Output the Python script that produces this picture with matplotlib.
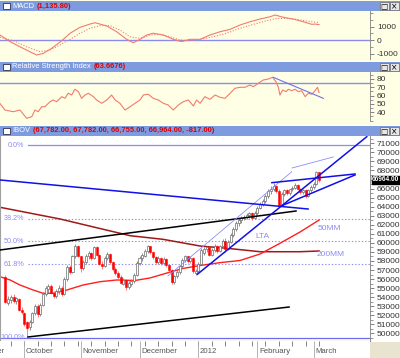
import numpy as np
import pandas as pd
import matplotlib
matplotlib.use('Agg')
import matplotlib.pyplot as plt
from matplotlib.patches import Rectangle
from matplotlib.ticker import MultipleLocator, FixedLocator
from matplotlib.transforms import blended_transform_factory

plt.rcParams['font.family'] = ['Liberation Sans', 'DejaVu Sans']
plt.rcParams['axes.unicode_minus'] = False

# trading days on the chart (bar index 0 = 2011-09-22)
dates = pd.bdate_range('2011-09-22', '2012-03-05')

opens = [56200, 53400, 53700, 54000, 53600, 53800, 52600, 52300, 51200, 50700,
         51300, 52200, 53000, 52100, 53100, 54400, 54900, 55200, 54500, 54100,
         54700, 55000, 54300, 56000, 57300, 56800, 58500, 59600, 58500, 57200,
         57900, 58500, 58900, 58300, 59500, 58700, 57700, 57400, 58300, 58800,
         57900, 57100, 56700, 56200, 55500, 55900, 55100, 55500, 55800, 56500,
         57800, 58300, 58600, 59100, 59600, 59000, 58400, 57900, 58300, 57800,
         58200, 57500, 57000, 55700, 56300, 56800, 57400, 58100, 58500, 58000,
         58300, 56700, 56900, 57700, 58900, 59300, 59500, 58700, 59200, 59700,
         59100, 59600, 60200, 59300, 60100, 60900, 61500, 62200, 62500, 62800,
         62900, 63100, 63300, 62700, 63300, 63900, 64300, 64600, 65200, 65700,
         66000, 66300, 65700, 64200, 65400, 65800, 65500, 65900, 66100, 66400,
         66000, 65600, 65800, 65200, 65800, 66200, 66500, 67782]
highs = [56500, 54100, 54200, 54300, 54000, 53900, 52900, 52400, 51400, 51500,
         52400, 53200, 53200, 53300, 54600, 55200, 55500, 55400, 54700, 54900,
         55300, 55200, 56200, 57500, 57500, 58700, 59900, 59800, 58600, 58100,
         58800, 59100, 59000, 59700, 59600, 58800, 58000, 58500, 59000, 58900,
         58000, 57300, 56900, 56400, 56100, 56000, 55800, 56000, 56700, 58000,
         58600, 58900, 59300, 59800, 59700, 59100, 58600, 58500, 58400, 58400,
         58300, 57700, 57100, 56500, 57000, 57600, 58300, 58700, 58600, 58500,
         58400, 57100, 57900, 59400, 59500, 59700, 59600, 59400, 59900, 59800,
         59800, 60400, 60500, 60300, 61100, 61700, 62400, 62700, 63000, 63100,
         63300, 63400, 63400, 63500, 64100, 64500, 64800, 65400, 65900, 66300,
         66600, 66400, 65900, 65600, 66000, 66000, 66000, 66300, 66600, 66500,
         66100, 66000, 66000, 65900, 66400, 66700, 67900, 67782]
lows = [53300, 53100, 53400, 53400, 53200, 52500, 52100, 50800, 49500, 50400,
        51100, 52000, 51800, 51900, 53000, 54100, 54500, 54300, 53900, 53900,
        54400, 54100, 54200, 55800, 56600, 56700, 58300, 58400, 56800, 57000,
        57700, 58200, 58100, 58200, 58500, 57500, 57100, 57300, 58100, 57700,
        56900, 56500, 56000, 55400, 55300, 54800, 54900, 55200, 55600, 56300,
        57500, 58000, 58400, 58900, 58800, 58200, 57700, 57700, 57600, 57600,
        57300, 56800, 55500, 55500, 56100, 56600, 57200, 57900, 57800, 57800,
        56700, 56500, 56700, 57600, 58700, 59000, 58500, 58600, 59000, 58900,
        59000, 59400, 59000, 59200, 60000, 60700, 61300, 61900, 62200, 62500,
        62600, 62800, 62500, 62600, 63100, 63700, 64100, 64400, 65000, 65400,
        65700, 65500, 64000, 64100, 65200, 65300, 65300, 65700, 65900, 65800,
        65400, 65400, 65000, 65100, 65600, 66000, 66400, 66755]
closes = [53500, 53800, 54000, 53600, 53900, 52600, 52400, 51000, 50600, 51300,
          52200, 53000, 52100, 53100, 54400, 55000, 55200, 54500, 54100, 54700,
          55000, 54300, 56000, 57300, 56800, 58500, 59600, 58600, 57200, 57900,
          58600, 58900, 58300, 59500, 58700, 57700, 57400, 58300, 58800, 57900,
          57100, 56700, 56200, 55600, 55900, 55100, 55600, 55800, 56500, 57800,
          58300, 58700, 59100, 59600, 59000, 58400, 57900, 58300, 57800, 58200,
          57500, 57000, 55700, 56300, 56800, 57400, 58100, 58500, 58000, 58300,
          56900, 56900, 57700, 59200, 59300, 59500, 58700, 59200, 59700, 59100,
          59600, 60200, 59300, 60100, 60900, 61500, 62200, 62500, 62800, 62900,
          63100, 63300, 62700, 63300, 63900, 64300, 64600, 65200, 65700, 66000,
          66300, 65700, 64200, 65400, 65800, 65500, 65900, 66100, 66400, 66000,
          65600, 65800, 65200, 65800, 66200, 66500, 67781, 66964]

# moving averages, vertices (bar index, price)
mm50_x = [-2.05, 1.7, 5.4, 10.3, 14.0, 17.7, 22.9, 28.9, 35.3, 41.6, 48.3,
          53.9, 60.3, 66.2, 72.6, 80.0, 87.5, 95.0, 102.4, 109.9, 117.0]
mm50_y = [56260, 55900, 55340, 54790, 54430, 54430, 54790, 55340, 55710, 55900,
          55840, 56120, 56670, 57170, 57500, 57810, 58050, 58770, 59950, 61200, 62520]
mm200_x = [-2.05, 20.3, 46.5, 58.8, 72.6, 82.6, 95.0, 109.9, 117.0]
mm200_y = [63930, 62640, 60790, 60390, 59650, 59400, 59020, 59020, 59100]

# drawn trend lines: ((x0, x1), (y0, y1)) in bar index / price
blue_lines = [((-2.1, 112.9), (66950, 63740)),
              ((71.6, 134.8), (56530, 71730)),   # LTA
              ((99.4, 130.4), (66650, 67610)),
              ((102.8, 130.4), (64070, 67500))]
thin_lines = [((60.6, 106.8), (56340, 67860)),
              ((106.9, 122.3), (68270, 69490))]
black_lines = [((-2.1, 108.4), (59210, 63520)),
               ((8.4, 105.8), (49600, 52910))]

fib_high, fib_low = 70810, 49490
fib_ratios = [0.0, 0.382, 0.5, 0.618, 1.0]
fib_labels = ['0.0%', '38.2%', '50.0%', '61.8%', '100.0%']

# RSI and MACD vertices
rsi_x = [-2.1, -0.2, 2.9, 5.4, 7.9, 9.8, 11.0, 12.2, 13.5, 14.7, 16.6, 17.8, 19.1,
         21.0, 22.2, 23.4, 24.7, 25.9, 27.2, 28.4, 29.7, 30.9, 32.8, 34.0, 35.9,
         37.8, 39.6, 40.9, 42.7, 44.6, 46.5, 48.3, 50.2, 51.4, 53.3, 55.1, 57.0,
         58.9, 60.7, 62.6, 64.5, 66.3, 68.2, 70.1, 71.3, 72.6, 74.4, 76.3, 78.2,
         80.0, 81.9, 83.8, 85.6, 87.5, 89.4, 91.2, 92.5, 94.3, 96.2, 98.1, 99.7,
         100.9, 101.8, 102.4, 103.4, 104.7, 105.5, 106.8, 108.0, 109.3, 110.5,
         111.8, 113.0, 114.3, 115.5, 116.4, 117.0]
rsi_y = [50.7, 42.6, 40.6, 42.6, 32.6, 34.6, 42.6, 40.6, 46.6, 46.6, 52.6, 54.7, 52.6,
         58.7, 56.7, 62.8, 60.7, 67.6, 64.7, 56.7, 60.7, 62.8, 58.7, 54.7, 50.7,
         54.7, 60.7, 54.7, 50.7, 42.6, 46.6, 50.7, 54.7, 60.7, 61.6, 56.7, 54.7,
         50.7, 48.7, 42.6, 48.7, 52.6, 54.7, 47.5, 54.7, 50.7, 58.7, 55.5, 60.7,
         58.0, 56.7, 62.8, 68.8, 70.0, 70.0, 72.8, 70.7, 74.8, 78.8, 80.0, 82.0,
         76.7, 70.0, 60.7, 66.7, 64.7, 67.6, 65.9, 67.6, 64.7, 65.9,
         58.7, 62.8, 61.6, 65.9, 70.0, 63.6676]
rsi_trend = ((99.9, 118.6), (82.0, 56.7))
rsi_level = 75

macd_x = [-2.1, 1.7, 5.4, 9.1, 11.6, 14.1, 17.2, 21.0, 24.1, 27.8, 31.5, 33.4, 37.8,
          41.5, 45.2, 47.7, 50.2, 52.7, 55.1, 58.9, 62.6, 65.7, 68.8, 72.6, 76.3,
          80.0, 83.8, 87.5, 91.2, 94.9, 98.7, 100.6, 103.7, 107.4, 111.1, 114.3,
          115.5, 117.0]
macd_y = [370, -120, -500, -870, -1110, -990, -620, -50, 500, 940, 1180, 1280, 1040,
          610, 50, -200, 50, 370, 500, 370, 50, -120, 50, 50, 370,
          610, 790, 1110, 1350, 1550, 1720, 1850, 1680, 1550, 1350, 1160,
          1180, 1135.8]
signal_x = [-2.1, 2.9, 7.9, 12.9, 16.6, 20.3, 24.1, 27.8, 31.5, 35.3, 39.0, 42.7,
            46.5, 50.2, 53.9, 57.6, 61.4, 65.1, 68.8, 72.6, 77.5, 82.5, 87.5, 92.5,
            97.5, 101.2, 104.9, 108.7, 112.4, 117.0]
signal_y = [200, -50, -500, -870, -740, -370, 50, 500, 870, 1060, 1060, 740,
            240, 120, 370, 420, 240, 0, -50, 50, 240, 500, 870, 1160,
            1430, 1600, 1600, 1530, 1400, 1280]

month_labels = ['September', 'October', 'November', 'December', '2012', 'February', 'March']

CREAM = '#ffffe6'
BAR_BLUE = '#7f9be0'
SALMON = '#f27b6e'
LAV = '#8c8cf0'
XLIM = (-2.05, 136.0)

W, H = 400, 358
fig = plt.figure(figsize=(W / 100, H / 100), dpi=100, facecolor=CREAM)


def px_axes(x0, y0, x1, y1):
    return fig.add_axes([x0 / W, 1 - y1 / H, (x1 - x0) / W, (y1 - y0) / H])


def title_bar(y0, y1, name, value):
    ax = px_axes(0, y0, 400, y1)
    ax.set_facecolor(BAR_BLUE)
    ax.set_xlim(0, 400)
    ax.set_ylim(0, 1)
    ax.set_xticks([])
    ax.set_yticks([])
    for s in ax.spines.values():
        s.set_visible(False)
    ax.add_patch(Rectangle((3, 0.22), 7, 0.56, facecolor='white', edgecolor='#303050', lw=0.6))
    t = ax.text(12, 0.5, name, color='white', fontsize=5.4, va='center', ha='left')
    ax.annotate(value, xy=(1, 0.5), xycoords=t, xytext=(2, 0), textcoords='offset points',
                color='#e00000', fontsize=5.4, va='center', fontweight='bold')
    for bx, glyph in [(380, '\u25a1'), (390, '\u00d7')]:
        ax.add_patch(Rectangle((bx, 0.1), 8.5, 0.8, facecolor='#e6e6e6', edgecolor='#6a6a6a', lw=0.5))
        ax.text(bx + 4.25, 0.47, glyph, fontsize=5.5, ha='center', va='center', color='black',
                family='DejaVu Sans')


def right_axis(ax, major, minor):
    ax.set_xlim(*XLIM)
    ax.set_xticks([])
    ax.yaxis.tick_right()
    ax.yaxis.set_major_locator(major)
    ax.yaxis.set_minor_locator(minor)
    ax.tick_params(axis='y', which='major', length=3, width=0.6, color='#707070',
                   labelsize=6, labelcolor='#333333', pad=2)
    ax.tick_params(axis='y', which='minor', length=2, width=0.5, color='#707070')
    for side in ['top', 'bottom', 'left']:
        ax.spines[side].set_visible(False)
    ax.spines['right'].set_color('#808080')
    ax.spines['right'].set_linewidth(0.6)


# white area behind the price panel and a beige corner
fig.patches.append(Rectangle((0, 0), 1, 1 - 136 / H, transform=fig.transFigure,
                             facecolor='white', edgecolor='none', zorder=-1))
fig.patches.append(Rectangle((370 / W, 0), 30 / W, 16 / H, transform=fig.transFigure,
                             facecolor='#e8e4d0', edgecolor='none', zorder=-1))

# ---- MACD ----
title_bar(1, 11, 'MACD', f'({macd_y[-1]:,.2f})')
ax_m = px_axes(0, 11, 370, 59)
ax_m.set_facecolor(CREAM)
ax_m.axhline(0, color=LAV, lw=1.0)
ax_m.plot(signal_x, signal_y, color=SALMON, lw=0.8, ls=(0, (1, 1.5)))
ax_m.plot(macd_x, macd_y, color=SALMON, lw=0.8)
ax_m.set_ylim(-1407, 2148)
right_axis(ax_m, FixedLocator([-1000, 0, 1000]), MultipleLocator(500))

# ---- RSI ----
title_bar(62, 72, 'Relative Strength Index', f'({rsi_y[-1]:.4f})')
ax_r = px_axes(0, 72, 370, 121)
ax_r.set_facecolor(CREAM)
ax_r.axhline(rsi_level, color=LAV, lw=1.0)
ax_r.plot(rsi_x, rsi_y, color=SALMON, lw=0.8)
ax_r.plot(rsi_trend[0], rsi_trend[1], color='#7070e8', lw=0.8)
ax_r.set_ylim(29.4, 88.4)
right_axis(ax_r, FixedLocator([40, 50, 60, 70, 80]), MultipleLocator(5))

# ---- IBOV candles ----
last_chg = closes[-1] - closes[-2]
title_bar(126, 136, 'IBOV', f'({opens[-1]:,.2f}, {highs[-1]:,.2f}, {lows[-1]:,.2f}, '
                            f'{closes[-1]:,.2f}, {last_chg:,.2f})')
ax = px_axes(0, 136, 370, 341)
ax.set_facecolor('white')
ax.set_ylim(49155, 71807)
right_axis(ax, MultipleLocator(1000), MultipleLocator(500))
ax.spines['bottom'].set_visible(True)
ax.spines['bottom'].set_color('#909090')
ax.spines['left'].set_visible(True)
ax.spines['left'].set_color('#a0a0a0')
# the last-price tag hides the tick label next to it
ax.yaxis.set_major_formatter(plt.FuncFormatter(
    lambda v, p: '' if abs(v - closes[-1]) < 500 else f'{v:.0f}'))

# fibonacci levels
trans = blended_transform_factory(ax.transAxes, ax.transData)
for r, lab in zip(fib_ratios, fib_labels):
    lvl = fib_high - r * (fib_high - fib_low)
    if r == 0.0:
        ax.axhline(lvl, xmin=28 / 370, color=LAV, lw=0.9)
    elif r == 1.0:
        ax.axhline(lvl, color='#6c6cf0', lw=0.9)
    else:
        ax.axhline(lvl, xmin=28 / 370, color=LAV, lw=0.8, ls=(0, (1.2, 1.8)))
    ax.text(24.5 / 370, lvl, lab, transform=trans, ha='right', va='center', fontsize=5.2, color=LAV)

ax.plot(mm200_x, mm200_y, color='#a01818', lw=1.1)
ax.plot(mm50_x, mm50_y, color='#ff2020', lw=1.0)

idx = np.arange(len(dates))
o = np.array(opens)
c = np.array(closes)
up = c >= o
ax.vlines(idx[up], np.array(lows)[up], np.array(highs)[up], color='#808080', lw=0.6)
ax.vlines(idx[~up], np.array(lows)[~up], np.array(highs)[~up], color='#ff6a6a', lw=0.6)
body_lo = np.minimum(o, c)
body_h = np.maximum(np.abs(c - o), 60)
ax.bar(idx[up], body_h[up], bottom=body_lo[up], width=0.75, color='white',
       edgecolor='#6a6a6a', linewidth=0.5, zorder=3)
ax.bar(idx[~up], body_h[~up], bottom=body_lo[~up], width=0.75, color='#ff0000',
       edgecolor='#ff0000', linewidth=0.4, zorder=3)

for (xs, ys) in black_lines:
    ax.plot(xs, ys, color='black', lw=1.1, zorder=4)
for (xs, ys) in thin_lines:
    ax.plot(xs, ys, color='#8c8cff', lw=0.6, zorder=4)
for (xs, ys) in blue_lines:
    ax.plot(xs, ys, color='#1010e8', lw=1.1, zorder=4)

ax.text(93.1, 60700, 'LTA', fontsize=6, color=LAV, va='center')
ax.text(116.6, 61640, '50MM', fontsize=6, color=LAV, va='center')
ax.text(116.2, 58660, '200MM', fontsize=6, color=LAV, va='center')

ax.text(1.006, closes[-1], f'{closes[-1]:.2f}', transform=trans, ha='left', va='center',
        fontsize=4.7, color='white', fontweight='bold',
        bbox=dict(facecolor='black', edgecolor='black', pad=0.3), zorder=6, clip_on=False)
ax.set_xlim(*XLIM)

# ---- date strip ----
ax_d = px_axes(0, 341, 370, 358)
ax_d.set_facecolor('white')
ax_d.set_xlim(*XLIM)
ax_d.set_ylim(0, 1)
ax_d.set_xticks([])
ax_d.set_yticks([])
for s in ax_d.spines.values():
    s.set_visible(False)

month_pos = [-int(np.busday_count('2011-09-01', '2011-09-22'))]
month_pos += [i for i in range(1, len(dates)) if dates[i].month != dates[i - 1].month]
mondays = idx[dates.dayofweek == 0]
ax_d.vlines(mondays, 0.72, 1.0, color='#707070', lw=0.6)
ax_d.vlines(month_pos, 0.0, 1.0, color='#a8a8a8', lw=0.6)
for pos, lab in zip(month_pos, month_labels):
    ax_d.text(pos + 0.6, 0.4, lab, fontsize=5.6, color='#555555', va='center', ha='left', clip_on=True)

fig.savefig('out.png', dpi=100, facecolor=fig.get_facecolor())
